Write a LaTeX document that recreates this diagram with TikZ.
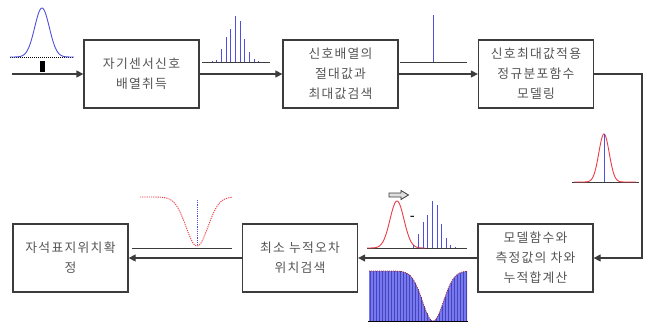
\documentclass[tikz,border=0pt]{standalone}
\usepackage{fontspec}
\newfontfamily\kr[LetterSpace=10]{Noto Sans CJK KR}
\usetikzlibrary{arrows.meta}
\definecolor{sigblue}{RGB}{80,80,220}
\definecolor{fillblue}{RGB}{120,120,240}
\definecolor{sigred}{RGB}{235,60,70}
\definecolor{linegray}{RGB}{60,60,60}
\definecolor{txtgray}{RGB}{85,85,85}
\tikzset{
  procbox/.style={draw=linegray, line width=1.3pt, fill=white, minimum width=115pt, minimum height=68pt, inner sep=0pt, align=center, font=\kr\fontsize{12.8pt}{20pt}\selectfont, text=txtgray},
  flow/.style={draw=linegray, line width=1.3pt, -{Triangle[length=7pt,width=7pt]}},
  base/.style={draw=linegray, line width=1pt},
  stem/.style={draw=sigblue, line width=0.9pt},
}
\begin{document}
\begin{tikzpicture}[x=1pt,y=-1pt]
\useasboundingbox (0,0) rectangle (650,325);
% boxes
\node[procbox] (b1) at (141.5,74) {자기센서신호\\배열취득};
\node[procbox] (b2) at (340.5,74) {신호배열의\\절대값과\\최대값검색};
\node[procbox] (b3) at (536,74) {신호최대값적용\\정규분포함수\\모델링};
\node[procbox] (b4) at (535.5,258) {모델함수와\\측정값의 차와\\누적합계산};
\node[procbox] (b5) at (300,258) {최소 누적오차\\위치검색};
\node[procbox] (b6) at (70.5,258) {자석표지위치확\\정};
% connectors
\coordinate (in) at (12,74);
\coordinate (c1) at (642,74);
\coordinate (c2) at (642,258);
\draw[flow] (in) -- (b1.west);
\draw[flow] (b1.east) -- (b2.west);
\draw[flow] (b2.east) -- (b3.west);
\draw[flow] (b3.east) -- (c1) -- (c2) -- (b4.east);
\draw[flow] (b4.west) -- (b5.east);
\draw[flow] (b5.west) -- (b6.east);
% top-left gaussian
\draw[black, line width=0.8pt, dash pattern=on 1pt off 1pt] (10,57) -- (74,57);
\draw[sigblue, line width=0.9pt] plot[domain=10:74, samples=80] ({\x},{57-49*exp(-((\x-42)^2)/(2*7.3*7.3))});
\fill[black] (40,61) rectangle (44.5,72);
% stems between box1 and box2
\draw[base] (202,62) -- (270,62);
\foreach \xx/\yy in {212/61, 216.7/60, 221/49, 226/36.7, 230.7/29.3, 235.3/15.7, 240/20.7, 244.7/39, 249.3/52.3, 254/59.3, 258.5/61}
  \draw[stem] (\xx,62) -- (\xx,\yy);
% single stem
\draw[base] (400,62) -- (467,62);
\draw[stem] (433,62) -- (433,15);
% right gaussian
\draw[base] (572,182) -- (639,182);
\draw[sigred, line width=0.9pt] plot[domain=574:636, samples=80] ({\x},{182-48*exp(-((\x-604)^2)/(2*5.2*5.2))});
\draw[sigblue, line width=1pt] (604,182) -- (604,134);
% bottom-left inverted dotted gaussian
\draw[base] (132,248) -- (232,248);
\draw[sigred, line width=0.9pt, dash pattern=on 1.2pt off 1pt] plot[domain=140:232, samples=90] ({\x},{197+49*exp(-((\x-197)^2)/(2*11*11))});
\draw[sigblue, line width=0.8pt, dash pattern=on 1.2pt off 1pt] (197,200) -- (197,246);
% bottom-middle model gaussian and stems
\draw[base] (367,248) -- (467,248);
\draw[sigred, line width=0.9pt] plot[domain=367:425, samples=80] ({\x},{248-47*exp(-((\x-397)^2)/(2*7*7))});
\foreach \xx/\yy in {413.3/245, 418.3/234.3, 423.3/222.3, 427.7/215, 432.3/201, 437/205, 441.7/224.3, 446/237.7, 450.7/245, 455/247}
  \draw[stem] (\xx,248) -- (\xx,\yy);
\node[font=\bfseries\fontsize{12pt}{12pt}\selectfont, inner sep=0pt] (minus) at (412.7,218) {-};
\draw[linegray, line width=0.8pt, fill=gray!25] (389,193) -- (401,193) -- (401,190.5) -- (408.5,195) -- (401,199.5) -- (401,197) -- (389,197) -- cycle;
% bottom bars (cumulative error)
\fill[fillblue] (369,321) -- plot[domain=369:467, samples=100] ({\x},{271+50*exp(-((\x-433)^2)/(2*10.5*10.5))}) -- (467,321) -- cycle;
\foreach \xx in {370,373,...,466}
  \draw[sigblue!85!black, line width=0.5pt] (\xx,321) -- (\xx,{271+50*exp(-((\xx-433)^2)/(2*10.5*10.5))});
\draw[sigred!70!black, line width=0.8pt, dash pattern=on 1pt off 1pt] plot[domain=369:467, samples=100] ({\x},{271+50*exp(-((\x-433)^2)/(2*10.5*10.5))});
\draw[black, line width=1pt] (368,321.5) -- (468,321.5);
\end{tikzpicture}
\end{document}
